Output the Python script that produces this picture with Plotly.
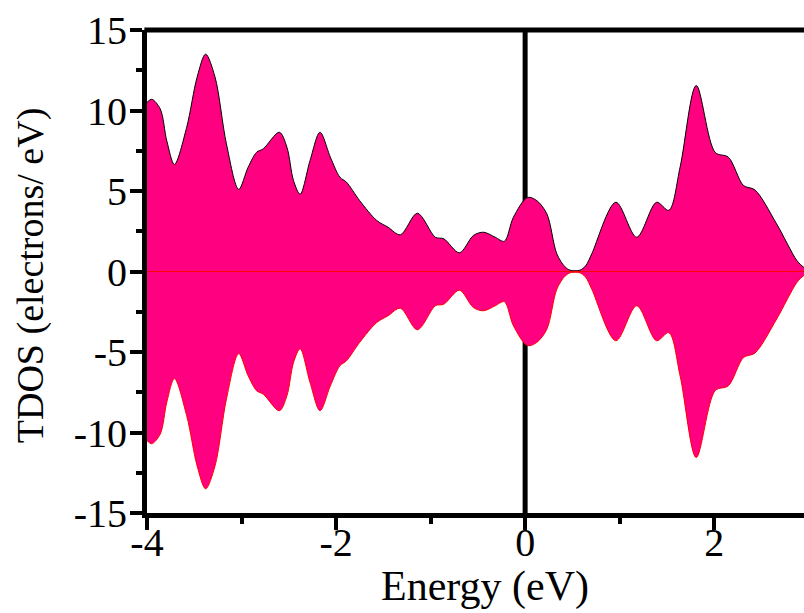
import plotly.graph_objects as go

# Energy (eV) sample points of the spin-up / spin-down TDOS curves
energy = [-4.00, -3.95, -3.86, -3.79, -3.71, -3.58, -3.47, -3.38, -3.28, -3.16,
          -3.03, -2.93, -2.84, -2.77, -2.60, -2.52, -2.45, -2.38, -2.275, -2.17,
          -2.06, -1.96, -1.89, -1.75, -1.57, -1.45, -1.32, -1.14, -0.95, -0.86,
          -0.695, -0.547, -0.44, -0.317, -0.22, -0.124, 0.025, 0.124, 0.23, 0.335,
          0.42, 0.476, 0.53, 0.58, 0.64, 0.705, 0.96, 1.18, 1.39, 1.52,
          1.64, 1.81, 2.01, 2.15, 2.31, 2.43, 2.66, 2.875, 2.945, 3.00]

tdos_up = [10.5, 10.7, 10.1, 8.1, 6.65, 8.96, 12.07, 13.5, 12.07, 7.93,
           5.1, 6.48, 7.41, 7.62, 8.65, 7.72, 5.65, 4.8, 6.9, 8.65,
           7.1, 5.86, 5.55, 4.4, 3.17, 2.75, 2.28, 3.62, 2.13, 2.03,
           1.16, 2.24, 2.44, 2.13, 1.88, 3.37, 4.6, 4.4, 3.58, 1.1,
           0.3, 0.08, 0.05, 0.08, 0.35, 1.1, 4.3, 2.13, 4.3, 3.8,
           6.5, 11.55, 7.4, 7.1, 5.34, 5.07, 2.96, 0.68, 0.27, 0.05]

tdos_dn = [-10.5, -10.7, -10.1, -8.1, -6.65, -8.96, -12.07, -13.5, -12.07, -7.93,
           -5.1, -6.48, -7.41, -7.62, -8.65, -7.72, -5.65, -4.8, -6.9, -8.65,
           -7.1, -5.86, -5.55, -4.4, -3.17, -2.75, -2.28, -3.62, -2.13, -2.03,
           -1.16, -2.24, -2.44, -2.13, -1.88, -3.37, -4.6, -4.4, -3.58, -1.1,
           -0.3, -0.08, -0.05, -0.08, -0.35, -1.1, -4.3, -2.13, -4.3, -3.8,
           -6.5, -11.55, -7.4, -7.1, -5.34, -5.07, -2.96, -0.68, -0.27, -0.05]

x_ticks = [-4, -2, 0, 2]
y_ticks = [-15, -10, -5, 0, 5, 10, 15]

FILL = "rgb(255,0,128)"
FONT = "Liberation Serif"

fig = go.Figure()
fig.add_trace(go.Scatter(x=energy, y=tdos_up, mode="lines",
                         line=dict(color="black", width=1, shape="spline", smoothing=0.9),
                         fill="tozeroy", fillcolor=FILL, showlegend=False))
fig.add_trace(go.Scatter(x=energy, y=tdos_dn, mode="lines",
                         line=dict(color="red", width=1, shape="spline", smoothing=0.9),
                         fill="tozeroy", fillcolor=FILL, showlegend=False))

# Fermi level line (behind the fill) and zero baseline (above)
fig.add_shape(type="line", xref="x", yref="paper", x0=0, x1=0, y0=0, y1=1,
              line=dict(color="black", width=5), layer="below")
fig.add_shape(type="line", xref="paper", yref="y", x0=0, x1=1, y0=0, y1=0,
              line=dict(color="red", width=1), layer="above")
# top frame line
fig.add_shape(type="line", xref="paper", yref="paper", x0=-0.004, x1=1, y0=1, y1=1,
              line=dict(color="black", width=5), layer="above")

tickfont = dict(family=FONT, size=40, color="black")

fig.update_layout(
    width=804, height=613,
    margin=dict(l=147, r=0, t=30, b=100),
    paper_bgcolor="white", plot_bgcolor="white",
    font=dict(family=FONT, size=40, color="black"),
    xaxis=dict(range=[-4, 2.95], tickvals=x_ticks, ticktext=[str(v) for v in x_ticks],
               showline=True, linecolor="black", linewidth=5,
               ticks="outside", ticklen=12, tickwidth=4, tickcolor="black",
               ticklabelstandoff=-22,
               minor=dict(dtick=1, tick0=-4, ticks="outside", ticklen=6, tickwidth=4, tickcolor="black"),
               showgrid=False, zeroline=False, tickfont=tickfont),
    yaxis=dict(range=[-15, 15], tickvals=y_ticks, ticktext=[str(v) for v in y_ticks],
               showline=True, linecolor="black", linewidth=5,
               ticks="outside", ticklen=12, tickwidth=4, tickcolor="black",
               ticklabelstandoff=-5,
               minor=dict(dtick=2.5, tick0=0, ticks="outside", ticklen=6, tickwidth=4, tickcolor="black"),
               showgrid=False, zeroline=False, tickfont=tickfont),
    annotations=[
        dict(text="Energy (eV)", xref="x", yref="paper", x=-0.42, y=-0.153,
             xanchor="center", yanchor="middle", showarrow=False,
             font=dict(size=42, family=FONT, color="black")),
        dict(text="TDOS (electrons/ eV)", xref="paper", yref="y", x=-0.177, y=-0.25,
             xanchor="center", yanchor="middle", textangle=-90, showarrow=False,
             font=dict(size=38, family=FONT, color="black")),
    ],
)

fig.write_html("out.html")
